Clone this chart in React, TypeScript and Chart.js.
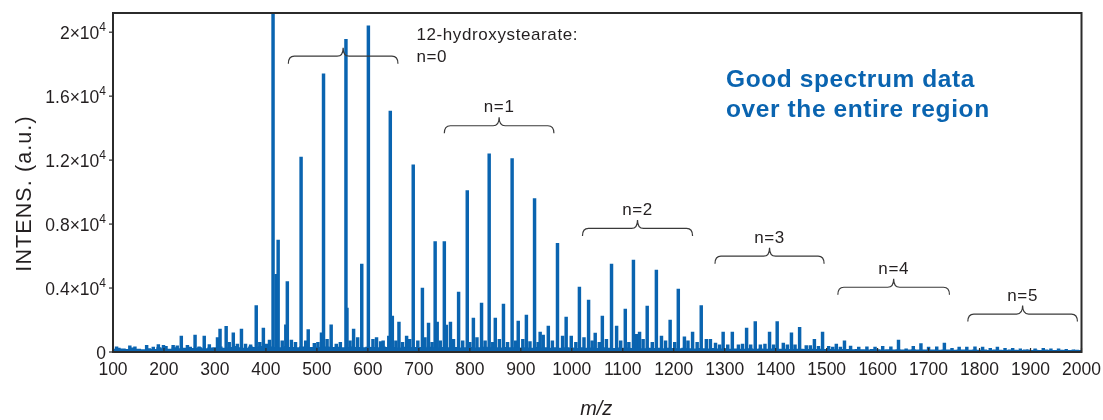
import { useEffect, useRef } from "react";
import { Chart, registerables } from "chart.js";

Chart.register(...registerables);

// Axis ranges and tick values
const MZ_MIN = 100;
const MZ_MAX = 2000;
const INTENSITY_MAX = 21200;
const X_TICKS = [100, 200, 300, 400, 500, 600, 700, 800, 900, 1000, 1100, 1200, 1300, 1400, 1500, 1600, 1700, 1800, 1900, 2000];
const Y_TICKS = [0, 4000, 8000, 12000, 16000, 20000];
const Y_TICK_MANTISSA = ["0", "0.4", "0.8", "1.2", "1.6", "2"];

// Spectrum peaks: m/z and intensity (a.u.)
const PEAK_MZ = [
  107, 133, 143, 166, 179, 189, 199, 204, 218, 226, 234, 246, 261, 269, 279, 289, 305, 310, 322, 328,
  336, 344, 352, 360, 370, 381, 388, 395, 401, 407, 414, 420, 424, 432, 439, 442, 450, 458, 469, 478,
  483, 495, 502, 509, 513, 520, 528, 538, 546, 557, 559, 565, 572, 580, 588, 601, 610, 617, 625, 630,
  641, 644, 648, 655, 661, 668, 676, 682, 689, 698, 707, 712, 719, 726, 732, 736, 742, 750, 754, 762,
  768, 778, 786, 795, 800, 807, 814, 823, 830, 838, 845, 850, 858, 866, 874, 883, 890, 895, 904, 911,
  918, 927, 934, 938, 944, 954, 962, 972, 982, 989, 999, 1008, 1015, 1024, 1033, 1040, 1046, 1054, 1060, 1068,
  1078, 1088, 1096, 1105, 1112, 1121, 1127, 1133, 1140, 1148, 1158, 1166, 1176, 1184, 1193, 1202, 1209, 1221, 1228, 1237,
  1246, 1254, 1264, 1272, 1282, 1290, 1297, 1306, 1315, 1327, 1335, 1343, 1351, 1360, 1370, 1379, 1388, 1396, 1403, 1415,
  1423, 1431, 1438, 1447, 1460, 1468, 1476, 1484, 1492, 1504, 1512, 1519, 1527, 1535, 1547, 1563, 1579, 1595, 1610, 1626,
  1641, 1656, 1670, 1685, 1700, 1716, 1731, 1746, 1760, 1775, 1791, 1806, 1821, 1835, 1850, 1865, 1880, 1895, 1909, 1925,
  1940, 1955, 1970, 1984,
];
const PEAK_INTENSITY = [
  330, 390, 330, 420, 300, 470, 420, 360, 420, 380, 1000, 420, 1060, 330, 1000, 470, 900, 1440, 1600, 600,
  1200, 500, 1440, 500, 450, 2900, 600, 1500, 500, 750, 21500, 4850, 7000, 700, 1700, 4400, 750, 600, 12190, 700,
  1400, 550, 600, 1200, 17400, 800, 1700, 500, 600, 19560, 2750, 700, 1440, 900, 5500, 20400, 800, 900, 650, 700,
  990, 15060, 2250, 700, 1875, 600, 1000, 800, 11700, 700, 4000, 900, 1810, 600, 6900, 1875, 700, 6900, 1690, 1875,
  800, 3750, 700, 10100, 600, 2125, 900, 3060, 700, 12400, 600, 2125, 800, 3000, 600, 12100, 700, 1940, 800, 2310,
  650, 9600, 600, 1250, 1060, 1625, 700, 6800, 1000, 2190, 1000, 600, 4060, 900, 3250, 700, 1190, 600, 2250, 800,
  5500, 1625, 700, 2690, 600, 5750, 1100, 1250, 800, 2875, 600, 5125, 1000, 700, 2000, 600, 3940, 950, 700, 1250,
  600, 2900, 800, 800, 560, 450, 1250, 450, 1250, 450, 500, 1500, 450, 1900, 450, 500, 1250, 450, 1900, 560,
  450, 1200, 450, 1550, 400, 400, 800, 350, 1250, 350, 300, 500, 300, 700, 375, 300, 330, 300, 350, 330,
  750, 200, 350, 520, 300, 330, 560, 230, 300, 300, 330, 300, 230, 300, 230, 230, 200, 130, 200, 230,
  200, 200, 170, 130,
];

// Continuous baseline level, sampled every 10 m/z from 100 to 2000
const BASELINE_LEVEL = [
  200, 260, 220, 180, 280, 210, 170, 240, 190, 300,
  230, 200, 290, 240, 270, 330, 250, 300, 240, 280,
  290, 340, 270, 320, 380, 300, 270, 340, 310, 380,
  300, 340, 320, 300, 360, 320, 290, 340, 300, 320,
  330, 300, 350, 310, 330, 300, 310, 350, 310, 300,
  330, 310, 300, 340, 320, 310, 280, 330, 300, 310,
  310, 280, 330, 300, 280, 310, 300, 320, 280, 300,
  310, 280, 300, 330, 290, 300, 280, 310, 290, 300,
  280, 300, 260, 310, 280, 300, 270, 290, 260, 300,
  280, 250, 300, 260, 280, 250, 290, 260, 250, 280,
  260, 280, 250, 260, 240, 270, 250, 260, 230, 260,
  250, 230, 260, 240, 220, 250, 230, 220, 250, 220,
  230, 210, 220, 210, 200, 230, 210, 220, 200, 220,
  210, 200, 210, 190, 200, 200, 180, 200, 190, 200,
  180, 190, 170, 190, 180, 170, 190, 170, 160, 180,
  170, 150, 170, 160, 170, 150, 160, 170, 150, 160,
  150, 160, 140, 160, 150, 140, 160, 150, 140, 150,
  140, 150, 130, 150, 140, 130, 150, 140, 130, 150,
  130, 140, 120, 150, 130, 120, 140, 130, 120, 140,
  120,
];
const BASELINE_MZ = BASELINE_LEVEL.map((_, i) => MZ_MIN + i * 10);

// Oligomer series brackets (12-hydroxystearate, n = 0..5)
const SERIES_LABELS = ["n=0", "n=1", "n=2", "n=3", "n=4", "n=5"];
const SERIES_START_MZ = [444, 750, 1021, 1281, 1522, 1777];
const SERIES_END_MZ = [659, 965, 1237, 1495, 1741, 1992];
const SERIES_BRACE_LEVEL = [18500, 14150, 7730, 5990, 4050, 2370];

const BLUE = "#0a64b0";
const INK = "#231f20";
const FONT = '"Liberation Sans", Arial, Helvetica, sans-serif';

type Ctx = CanvasRenderingContext2D & { letterSpacing?: string };

function drawText(
  ctx: Ctx,
  s: string,
  x: number,
  y: number,
  font: string,
  color: string,
  align: CanvasTextAlign,
  spacing = 0
) {
  ctx.font = font;
  ctx.fillStyle = color;
  ctx.textAlign = align;
  ctx.textBaseline = "alphabetic";
  ctx.letterSpacing = `${spacing}px`;
  ctx.fillText(s, x, y);
  ctx.letterSpacing = "0px";
}

function drawBrace(ctx: Ctx, x0: number, x1: number, y: number) {
  const xm = (x0 + x1) / 2;
  const r = 6;
  const tip = 8.5;
  const drop = 7.5;
  ctx.beginPath();
  ctx.moveTo(x0, y + drop);
  ctx.quadraticCurveTo(x0, y, x0 + r, y);
  ctx.lineTo(xm - r, y);
  ctx.quadraticCurveTo(xm, y, xm, y - tip);
  ctx.quadraticCurveTo(xm, y, xm + r, y);
  ctx.lineTo(x1 - r, y);
  ctx.quadraticCurveTo(x1, y, x1, y + drop);
  ctx.stroke();
}

const decorations = {
  id: "spectrumDecorations",
  afterDatasetsDraw(chart: Chart) {
    const ctx = chart.ctx as Ctx;
    const { left, right, top, bottom } = chart.chartArea;
    const xs = chart.scales.x;
    const ys = chart.scales.y;
    ctx.save();

    // frame
    ctx.strokeStyle = "#2b2b2b";
    ctx.lineWidth = 2;
    ctx.strokeRect(left, top, right - left, bottom - top);

    // x ticks and labels
    ctx.lineWidth = 1.2;
    X_TICKS.forEach((v) => {
      const px = xs.getPixelForValue(v);
      ctx.beginPath();
      ctx.moveTo(px, bottom);
      ctx.lineTo(px, bottom - 4);
      ctx.stroke();
      drawText(ctx, String(v), px, bottom + 22.5, `17.5px ${FONT}`, INK, "center");
    });

    // y ticks and labels with ×10^4 notation
    Y_TICKS.forEach((v, i) => {
      const py = ys.getPixelForValue(v);
      ctx.beginPath();
      ctx.moveTo(left, py);
      ctx.lineTo(left - 4, py);
      ctx.stroke();
      const m = Y_TICK_MANTISSA[i];
      const rx = left - 7;
      if (m === "0") {
        drawText(ctx, "0", rx, py + 6.5, `17.5px ${FONT}`, INK, "right");
      } else {
        ctx.font = `12px ${FONT}`;
        const supW = ctx.measureText("4").width;
        drawText(ctx, "4", rx, py - 1, `12px ${FONT}`, INK, "right");
        drawText(ctx, `${m}×10`, rx - supW, py + 6.5, `17.5px ${FONT}`, INK, "right");
      }
    });

    // axis titles
    drawText(ctx, "m/z", (left + right) / 2 - 1, 415, `italic 20px ${FONT}`, INK, "center");
    ctx.save();
    ctx.translate(30.5, (top + bottom) / 2 + 11);
    ctx.rotate(-Math.PI / 2);
    drawText(ctx, "INTENS. (a.u.)", 0, 0, `21.5px ${FONT}`, INK, "center", 1.1);
    ctx.restore();

    // series brackets and labels
    ctx.strokeStyle = "#3a3a3a";
    ctx.lineWidth = 1.2;
    SERIES_LABELS.forEach((label, i) => {
      const x0 = xs.getPixelForValue(SERIES_START_MZ[i]);
      const x1 = xs.getPixelForValue(SERIES_END_MZ[i]);
      const y = ys.getPixelForValue(SERIES_BRACE_LEVEL[i]);
      drawBrace(ctx, x0, x1, y);
      if (i > 0) {
        drawText(ctx, label, (x0 + x1) / 2, y - 13.5, `17px ${FONT}`, INK, "center", 0.6);
      }
    });
    const x0Label = xs.getPixelForValue(SERIES_END_MZ[0]) + 18.5;
    drawText(ctx, "12-hydroxystearate:", x0Label, 39.5, `17px ${FONT}`, INK, "left", 0.6);
    drawText(ctx, SERIES_LABELS[0], x0Label, 61.5, `17px ${FONT}`, INK, "left", 0.6);

    // highlighted note
    drawText(ctx, "Good spectrum data", 726, 87, `bold 24.5px ${FONT}`, BLUE, "left", 0.6);
    drawText(ctx, "over the entire region", 726, 117, `bold 24.5px ${FONT}`, BLUE, "left", 0.6);

    ctx.restore();
  },
};

export default function App() {
  const canvasRef = useRef<HTMLCanvasElement | null>(null);

  useEffect(() => {
    const canvas = canvasRef.current;
    if (!canvas) return;
    const chart = new Chart(canvas, {
      type: "bar",
      data: {
        datasets: [
          {
            type: "line",
            data: BASELINE_MZ.map((x, i) => ({ x, y: BASELINE_LEVEL[i] })),
            stepped: "middle",
            fill: "origin",
            backgroundColor: BLUE,
            borderWidth: 0,
            pointRadius: 0,
          } as any,
          {
            type: "bar",
            data: PEAK_MZ.map((x, i) => ({ x, y: PEAK_INTENSITY[i] })),
            backgroundColor: BLUE,
            borderWidth: 0,
            barThickness: 2.8,
          },
        ],
      },
      options: {
        responsive: false,
        devicePixelRatio: 1,
        animation: false,
        events: [],
        layout: { padding: { left: 113, top: 13, right: 21.5, bottom: 68 } },
        plugins: { legend: { display: false }, tooltip: { enabled: false } },
        scales: {
          x: { type: "linear", min: MZ_MIN, max: MZ_MAX, offset: false, display: false },
          y: { type: "linear", min: 0, max: INTENSITY_MAX, display: false },
        },
      },
      plugins: [decorations],
    });
    return () => chart.destroy();
  }, []);

  return (
    <div style={{ position: "fixed", left: 0, top: 0, width: 1103, height: 420, background: "#fff" }}>
      <canvas ref={canvasRef} width={1103} height={420} style={{ display: "block" }} />
    </div>
  );
}
